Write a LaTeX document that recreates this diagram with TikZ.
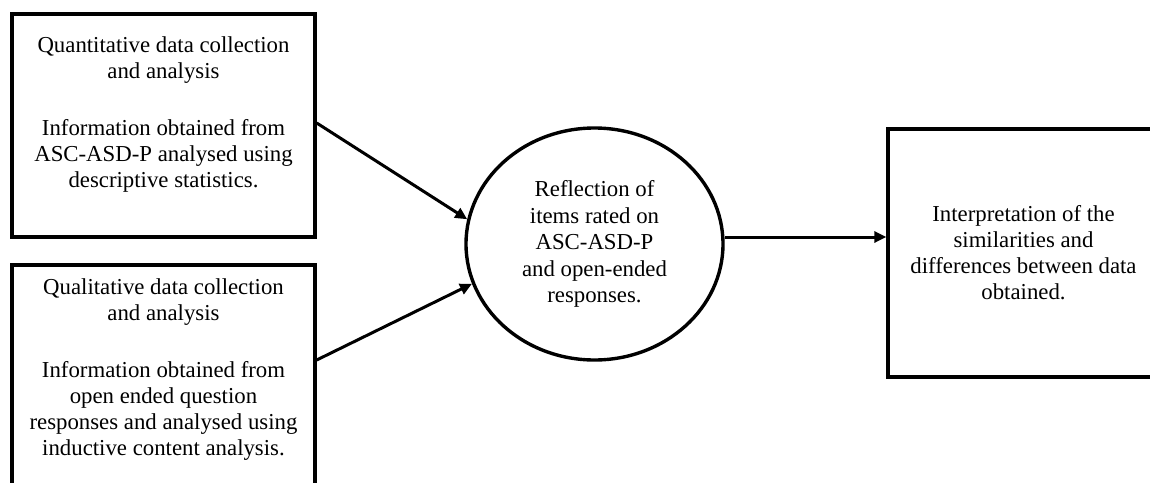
\documentclass[tikz,border=0pt]{standalone}
\usepackage{fontspec}
\setmainfont{Liberation Serif}
\usetikzlibrary{shapes.geometric,arrows.meta}
\begin{document}
\begin{tikzpicture}[x=0.5pt,y=-0.5pt,
  frame/.style={draw,line width=1.7pt,rectangle,inner sep=0pt},
  txt/.style={align=center,inner sep=0pt,font=\fontsize{11.4}{13}\selectfont},
  link/.style={line width=1.5pt,-{Triangle[length=6pt,width=5.5pt]}}]
\path[use as bounding box, clip] (0,0) rectangle (1150,482);

% quantitative strand
\node[frame,minimum width=151.5pt,minimum height=111.5pt] (qbox) at (163.5,125.5) {};
\node[txt,anchor=north] (qtext) at (163.5,36)
  {Quantitative data collection\\and analysis\\[15.5pt]Information obtained from\\ASC-ASD-P analysed using\\descriptive statistics.};

% qualitative strand
\node[frame,minimum width=151.5pt,minimum height=111.5pt] (lbox) at (163.5,376.5) {};
\node[txt,anchor=north] (ltext) at (163.5,278)
  {Qualitative data collection\\and analysis\\[15.5pt]Information obtained from\\open ended question\\responses and analysed using\\inductive content analysis.};

% merging step
\node[ellipse,draw,line width=1.7pt,inner sep=0pt,minimum width=128.5pt,minimum height=116pt,txt,
      font=\fontsize{11.4}{13.3}\selectfont] (circ) at (594.5,244)
  {Reflection of\\items rated on\\ASC-ASD-P\\and open-ended\\responses.};

% interpretation
\node[frame,minimum width=135.5pt,minimum height=124pt,txt] (ibox) at (1023.5,253)
  {Interpretation of the\\similarities and\\differences between data\\obtained.};

% connectors
\draw[link] ([yshift=1.25pt]qbox.east) -- (circ.169);
\draw[link] ([yshift=8.25pt]lbox.east) -- (circ.198);
\draw[link] ([yshift=3.5pt]circ.east) -- ([yshift=3.5pt]circ.east -| ibox.west);
\end{tikzpicture}
\end{document}
